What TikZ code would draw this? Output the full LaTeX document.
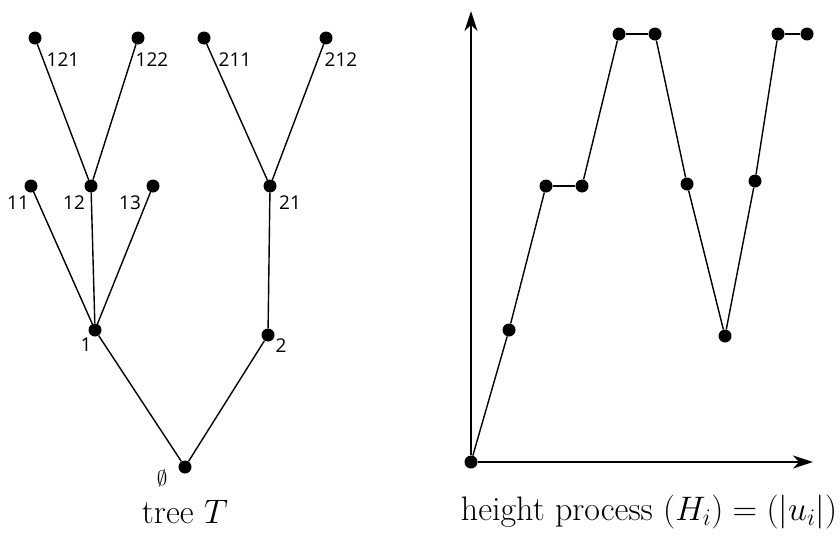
\RequirePackage{fix-cm}
\documentclass[tikz,border=0pt]{standalone}
\usepackage{fontspec}
\newfontfamily\labfont{Open Sans}
\usetikzlibrary{arrows.meta}

\tikzset{
  vtx/.style={circle,fill=black,inner sep=0pt,minimum size=13pt},
  edge/.style={black,line width=1.4pt},
  lab/.style={font=\labfont\fontsize{19}{22}\selectfont,inner sep=0pt},
  axis/.style={black,line width=1.5pt,-{Stealth[length=20pt,width=13pt,inset=6pt]}},
  capt/.style={font=\fontsize{34}{40}\selectfont,inner sep=0pt},
}

\begin{document}
\begin{tikzpicture}[x=1pt,y=-1pt]
\useasboundingbox (0,0) rectangle (840,538);

%vertices of the tree T
\node[vtx] (r) at (185,467) {};
\node[vtx] (v1) at (95,330) {};
\node[vtx] (v2) at (268,335) {};
\node[vtx] (v11) at (31,186) {};
\node[vtx] (v12) at (91,186) {};
\node[vtx] (v13) at (153,186) {};
\node[vtx] (v21) at (270,186) {};
\node[vtx] (v121) at (35,38) {};
\node[vtx] (v122) at (138,38) {};
\node[vtx] (v211) at (204,38) {};
\node[vtx] (v212) at (326,38) {};

%edges of the tree
\draw[edge] (r) -- (v1);
\draw[edge] (r) -- (v2);
\foreach \c in {11,12,13}
  \draw[edge] (v1) -- (v\c);
\draw[edge] (v2) -- (v21);
\draw[edge] (v12) -- (v121);
\draw[edge] (v12) -- (v122);
\draw[edge] (v21) -- (v211);
\draw[edge] (v21) -- (v212);

%labels of the vertices
\node[lab] (l121) at (63,60) {121};
\node[lab] (l122) at (152,60) {122};
\node[lab] (l211) at (235,60) {211};
\node[lab] (l212) at (341,60) {212};
\node[lab] (l11) at (18,203) {11};
\node[lab] (l12) at (74,203) {12};
\node[lab] (l13) at (130,203) {13};
\node[lab] (l21) at (290,203) {21};
\node[lab] (l1) at (86,345) {1};
\node[lab] (l2) at (281,346) {2};
\node[lab,font=\fontsize{21}{24}\selectfont] (lr) at (162,478) {$\emptyset$};

%points of the height process
\def\hpts{471/462,509/330,546/186,582/186,619/34,655/34,687/184,725/336,755/181,778/34,807/34}
\foreach [count=\i from 0] \x/\y in \hpts
  \node[vtx] (h\i) at (\x,\y) {};

%axes
\coordinate (ytop) at (471,11);
\coordinate (xend) at (813,462);
\draw[axis] (h0) -- (ytop);
\draw[axis] (h0) -- (xend);

%the height process
\foreach \i [evaluate=\i as \j using int(\i+1)] in {0,...,9}
  \draw[edge] (h\i) -- (h\j);

%captions
\node[capt] (ctree) at (185,512) {tree $T$};
\node[capt] (cheight) at (649,512) {height process $(H_i)=(|u_i|)$};
\end{tikzpicture}
\end{document}
